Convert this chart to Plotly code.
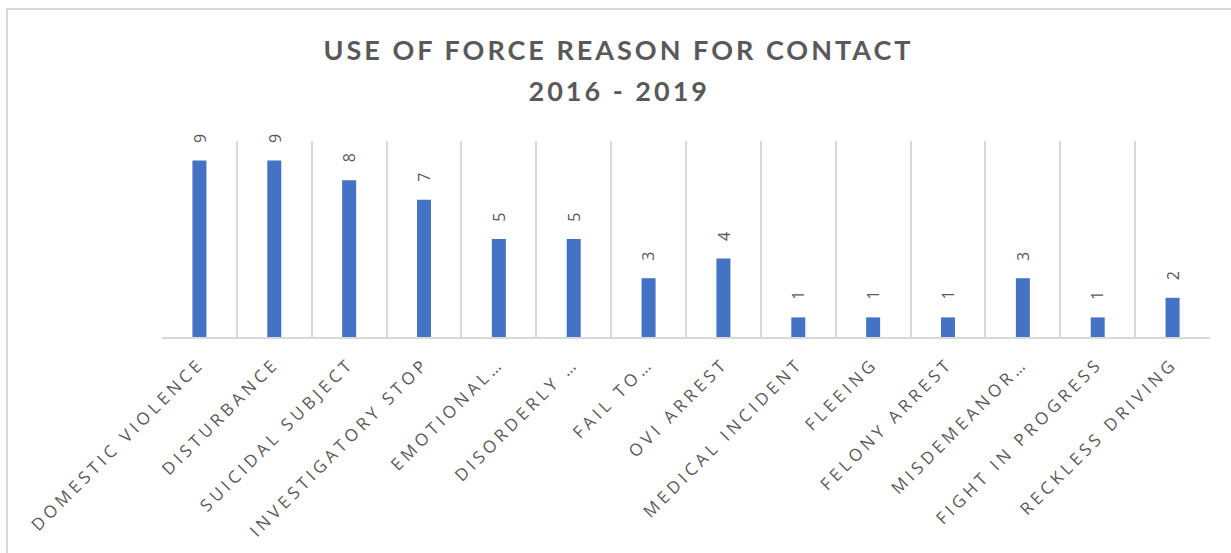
import plotly.graph_objects as go

categories = [
    "DOMESTIC VIOLENCE", "DISTURBANCE", "SUICIDAL SUBJECT", "INVESTIGATORY STOP",
    "EMOTIONAL…", "DISORDERLY …", "FAIL TO…", "OVI ARREST", "MEDICAL INCIDENT",
    "FLEEING", "FELONY ARREST", "MISDEMEANOR…", "FIGHT IN PROGRESS", "RECKLESS DRIVING",
]
counts = [9, 9, 8, 7, 5, 5, 3, 4, 1, 1, 1, 3, 1, 2]

title_line1 = "USE OF FORCE REASON FOR CONTACT"
title_line2 = "2016 - 2019"

W, H = 1231, 553
ML, MR, MT, MB = 162, 21, 141, 216
plot_w = W - ML - MR
plot_h = H - MT - MB

GRAY_TEXT = "#595959"
GRID = "#d9d9d9"

fig = go.Figure(
    go.Bar(
        x=categories,
        y=counts,
        marker=dict(color="#4472C4", line=dict(width=0)),
        hoverinfo="skip",
    )
)

# value labels above each bar, rotated vertically
for cat, v in zip(categories, counts):
    fig.add_annotation(
        x=cat, y=v, xref="x", yref="y",
        text=str(v), textangle=-90, showarrow=False,
        yshift=22,
        font=dict(family="Open Sans", size=16, color=GRAY_TEXT),
    )

# two-line chart title
def py(px):
    return 1 + (MT - px) / plot_h

for txt, ypx in ((title_line1, 50), (title_line2, 90)):
    fig.add_annotation(
        x=0.436, xref="paper", y=py(ypx), yref="paper",
        text=txt, showarrow=False, xanchor="center", yanchor="middle",
        font=dict(family="Lato", size=27, color=GRAY_TEXT, weight="bold"),
    )

# chart-area frame
fig.add_shape(
    type="rect", xref="paper", yref="paper",
    x0=(7 - ML) / plot_w, x1=(W + 20 - ML) / plot_w,
    y0=py(H + 20), y1=py(9),
    line=dict(color=GRID, width=2), fillcolor="rgba(0,0,0,0)", layer="below",
)

fig.update_layout(
    width=W, height=H,
    margin=dict(l=ML, r=MR, t=MT, b=MB, pad=0),
    paper_bgcolor="white", plot_bgcolor="white",
    bargap=0.813,
    showlegend=False,
    font=dict(family="Open Sans", color=GRAY_TEXT),
)
fig.update_xaxes(
    type="category",
    tickson="boundaries",
    showgrid=True, gridcolor=GRID, gridwidth=1.5,
    showline=True, linecolor=GRID, linewidth=2,
    ticks="", tickangle=-45,
    tickfont=dict(family="Open Sans", size=17, color=GRAY_TEXT),
    ticklabelstandoff=8,
    range=[-0.5, len(categories) - 0.5],
    zeroline=False,
)
fig.update_yaxes(
    range=[0, 10], visible=False, showgrid=False, zeroline=False,
)

post = """
var gd = document.getElementsByClassName('plotly-graph-div')[0];
gd.querySelectorAll('.xtick text').forEach(function(t){ t.style.letterSpacing = '4px'; });
gd.querySelectorAll('.annotation-text').forEach(function(t){
  if (t.textContent.length > 3) { t.style.letterSpacing = '3px'; }
});
"""

fig.write_html("out.html", post_script=post, config={"displayModeBar": False})
